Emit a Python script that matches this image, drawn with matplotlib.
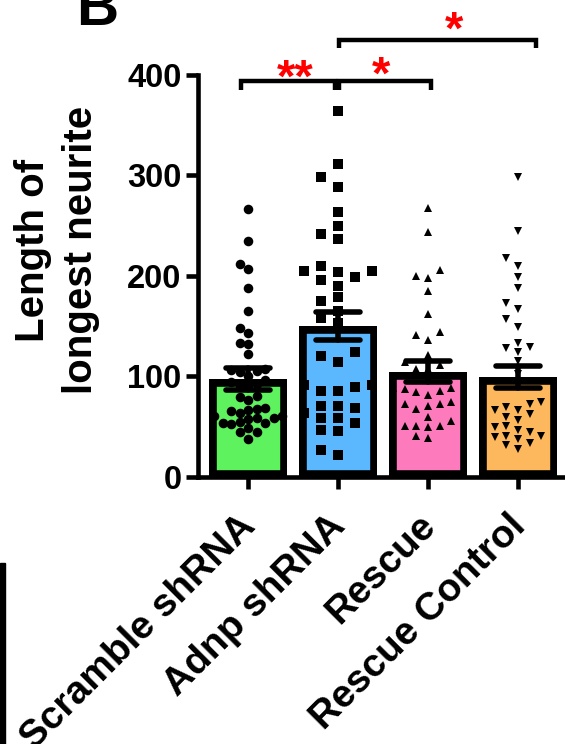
import numpy as np
import matplotlib
matplotlib.use("Agg")
import matplotlib.pyplot as plt
from matplotlib.patches import Rectangle
from matplotlib.transforms import ScaledTranslation
from matplotlib import font_manager

# ---------------- data ----------------
categories = ["Scramble shRNA", "Adnp shRNA", "Rescue", "Rescue Control"]
means = [97, 150, 104.5, 99]
sems = [11, 14, 10.3, 11]

scramble = [267, 235, 212, 207, 188, 165, 148, 143, 133, 132, 122, 107, 106, 105, 104,
            100, 96, 94, 92, 90, 89, 80, 79, 76, 68, 67, 66, 65, 63, 60, 60, 58, 58, 57,
            54, 53, 53, 52, 48, 45, 45, 38]
adnp = [364, 311, 298, 288, 264, 250, 242, 237, 210, 205, 204, 205, 196, 199, 190, 175,
        179, 165, 158, 153, 120, 124, 114, 91, 89, 85, 85, 91, 68, 70, 58, 63, 53, 70,
        58, 47, 46, 22, 27]
rescue = [268, 244, 206, 198, 200, 185, 162, 144, 141, 136, 121, 114, 111, 107, 107, 88,
          88, 87, 85, 84, 81, 74, 72, 72, 70, 67, 59, 55, 50, 50, 50, 49, 41, 39]
rescue_ctrl = [298, 245, 218, 210, 199, 188, 173, 167, 157, 149, 133, 129, 128, 124, 115,
               102, 74, 72, 69, 66, 66, 62, 59, 56, 50, 49, 47, 45, 41, 41, 40, 38, 34,
               32, 28]

yticks = [0, 100, 200, 300, 400]
ylabel = "Length of\nlongest neurite"
sig_labels = ["**", "*", "*"]

# ---------------- style ----------------
fills = ["#5ef25e", "#5cb8fe", "#fd7bbc", "#fdb85e"]
markers = ["o", "s", "^", "v"]
msize = [6.9, 7.8, 5.6, 5.6]
col_px = [8.5, 17.0, 11.7, 11.7]   # swarm column spacing (px)
row_px = [9.0, 10.5, 8.5, 8.5]     # vertical clearance (px)

avail = {f.name for f in font_manager.fontManager.ttflist}
SANS = "Liberation Sans" if "Liberation Sans" in avail else "DejaVu Sans"
plt.rcParams["font.family"] = [SANS, "DejaVu Sans"]
plt.rcParams["font.weight"] = "bold"

DPI = 100
W, H = 565, 744
fig = plt.figure(figsize=(W / DPI, H / DPI), dpi=DPI)

px_x = 90.0          # px per category unit
x0_px = 248.0        # center of first category
ax_left_px, ax_bot_px, ax_top_px = 197.5, 476.7, 75.0
xl = ((ax_left_px - x0_px) / px_x, (W - x0_px) / px_x)
ax = fig.add_axes([ax_left_px / W, (H - ax_bot_px) / H,
                   1 - ax_left_px / W, (ax_bot_px - ax_top_px) / H])
ax.set_xlim(*xl)
ax.set_ylim(0, 400)
py = (ax_bot_px - ax_top_px) / 400.0

x = np.arange(len(categories))
bars = ax.bar(x, means, width=0.87, color=fills, edgecolor="black",
              linewidth=10.5, zorder=2)
for b in bars:
    b.set_clip_path(b)


def swarm(vals, s, h):
    vals = np.asarray(vals, float)
    order = np.argsort(vals)
    placed = []
    offs = np.zeros(len(vals))
    seq = [0]
    for k in range(1, 30):
        seq += [-k, k]
    for i in order:
        yv = vals[i] * py
        for k in seq:
            if all(not (c == k and abs(yv - yy) < h) for c, yy in placed):
                break
        placed.append((k, yv))
        offs[i] = k * s / px_x
    return offs


groups = [scramble, adnp, rescue, rescue_ctrl]
for i, g in enumerate(groups):
    offs = swarm(g, col_px[i], row_px[i])
    ax.plot(x[i] + offs, g, linestyle="none", marker=markers[i], ms=msize[i],
            mfc="black", mec="black", mew=0, zorder=4)

cw = 22 / px_x
for i in range(len(categories)):
    m, s = means[i], sems[i]
    kw = dict(color="black", lw=4.0, solid_capstyle="round", zorder=5)
    ax.plot([x[i], x[i]], [m - s, m + s], **kw)
    ax.plot([x[i] - cw, x[i] + cw], [m + s, m + s], **kw)
    ax.plot([x[i] - cw, x[i] + cw], [m - s, m - s], **kw)

for sp in ["top", "right"]:
    ax.spines[sp].set_visible(False)
for sp in ["left", "bottom"]:
    ax.spines[sp].set_linewidth(3.3)
ax.spines["left"].set_bounds(0, 400)

ax.set_yticks(yticks)
ax.set_yticklabels([str(t) for t in yticks], fontsize=23.5, fontweight="bold")
ax.set_xticks(x)
ax.set_xticklabels([])
ax.tick_params(axis="both", length=8.6, width=3.3, color="black")
ax.tick_params(axis="y", pad=3)

# category labels, rotated 45 degrees, anchored below each tick
lab_tr = ax.get_xaxis_transform() + ScaledTranslation(-11 / DPI, -31 / DPI,
                                                       fig.dpi_scale_trans)
for i, c in enumerate(categories):
    ax.text(x[i], 0, c, transform=lab_tr, rotation=45, ha="right", va="top",
            rotation_mode="anchor", fontsize=28, fontweight="bold", clip_on=False)

fig.text(57 / W, 1 - 250 / H, ylabel, rotation=90, ha="center", va="center",
         fontsize=29, fontweight="bold", linespacing=1.34, multialignment="center")

# significance brackets
def bracket(xa, xb, yb, drop):
    ax.plot([xa, xa, xb, xb], [yb - drop, yb, yb, yb - drop], color="black", lw=3.2,
            solid_capstyle="butt", solid_joinstyle="miter", clip_on=False, zorder=6)

bracket(-0.08, 0.97, 394, 9)
bracket(1.01, 2.03, 394, 9)
bracket(1.01, 3.2, 435, 8)
ax.text(0.52, 383.5, sig_labels[0], color="red", fontsize=34, ha="center",
        va="baseline", clip_on=False)
ax.text(1.48, 386.5, sig_labels[1], color="red", fontsize=34, ha="center",
        va="baseline", clip_on=False)
ax.text(2.29, 431.5, sig_labels[2], color="red", fontsize=34, ha="center",
        va="baseline", clip_on=False)

# panel letter and neighbouring-panel edge
fig.text(76 / W, 1 - 25 / H, "B", fontsize=42, fontweight="bold", ha="left",
         va="baseline")
fig.patches.append(Rectangle((0, 0), 5 / W, (H - 563) / H, transform=fig.transFigure,
                             color="black", zorder=10))

fig.savefig("out.png", dpi=DPI)
